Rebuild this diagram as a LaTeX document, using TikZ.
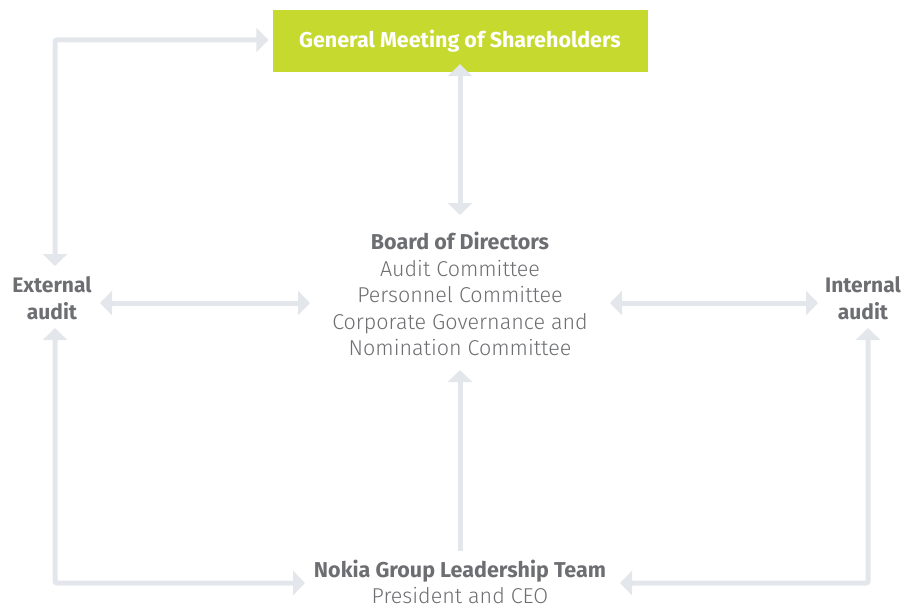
\documentclass[tikz,border=0pt]{standalone}
\usepackage{fontspec}
\setmainfont{Fira Sans}
\newfontfamily\lightfont{Fira Sans Light}
\usetikzlibrary{arrows.meta, positioning}
\definecolor{nokiagreen}{HTML}{C5D92E}
\definecolor{labelgray}{HTML}{6D6E71}
\definecolor{arrowgray}{HTML}{E3E6EA}

\begin{document}
\begin{tikzpicture}[x=1pt,y=-1pt]
      \tikzset{flow arrow/.style={line width=5pt,
          draw=arrowgray,
          rounded corners=2pt,
          arrows={#1}},
        flow arrow/.default={Triangle[width=24pt,length=12pt]-Triangle[width=24pt,length=12pt]},
        org label/.style={text=labelgray,
          align=center,
          inner sep=0pt,
          font=\fontsize{21.5}{26.5}\selectfont}
      }
      \useasboundingbox (0,0) rectangle (904,607);
      \node [fill=nokiagreen, minimum width=375pt, minimum height=62pt, inner sep=0pt,
        text=white, font=\fontsize{21.5}{24}\selectfont\bfseries] (GM) at (460,41) {General Meeting of Shareholders};
      \node [org label] (BD) at (460,294) {\textbf{Board of Directors}\\ {\lightfont Audit Committee}\\
        {\lightfont Personnel Committee}\\ {\lightfont Corporate Governance and}\\ {\lightfont Nomination Committee}};
      \node [org label, font=\fontsize{21}{27}\selectfont\bfseries] (EA) at (52,298) {External\\ audit};
      \node [org label, font=\fontsize{21}{27}\selectfont\bfseries] (IA) at (863,298) {Internal\\ audit};
      \node [org label, font=\fontsize{21.5}{26}\selectfont] (LT) at (460,582) {\textbf{Nokia Group Leadership Team}\\ {\lightfont President and CEO}};

      \coordinate (EA-n) at (55,266);
      \coordinate (EA-s) at (55,328);
      \coordinate (EA-e) at (100,303);
      \coordinate (IA-s) at (868,328);
      \coordinate (IA-w) at (818,303);
      \coordinate (GM-w) at ([xshift=-4pt]GM.west |- 0,40);
      \coordinate (GM-s) at ([yshift=8pt]GM.south);
      \coordinate (BD-n) at (460,215);
      \coordinate (BD-s) at (460,370);
      \coordinate (BD-w) at (310,303);
      \coordinate (BD-e) at (610,303);
      \coordinate (LT-n) at (460,551);
      \coordinate (LT-w) at (305,583);
      \coordinate (LT-e) at (620,583);

      \draw [flow arrow] (EA-n) |- (GM-w);
      \draw [flow arrow] (GM-s) -- (BD-n);
      \draw [flow arrow] (EA-e) -- (BD-w);
      \draw [flow arrow] (BD-e) -- (IA-w);
      \draw [flow arrow] (EA-s) |- (LT-w);
      \draw [flow arrow] (IA-s) |- (LT-e);
      \draw [flow arrow={-Triangle[width=24pt,length=12pt]}] (LT-n) -- (BD-s);
    \end{tikzpicture}
\end{document}
